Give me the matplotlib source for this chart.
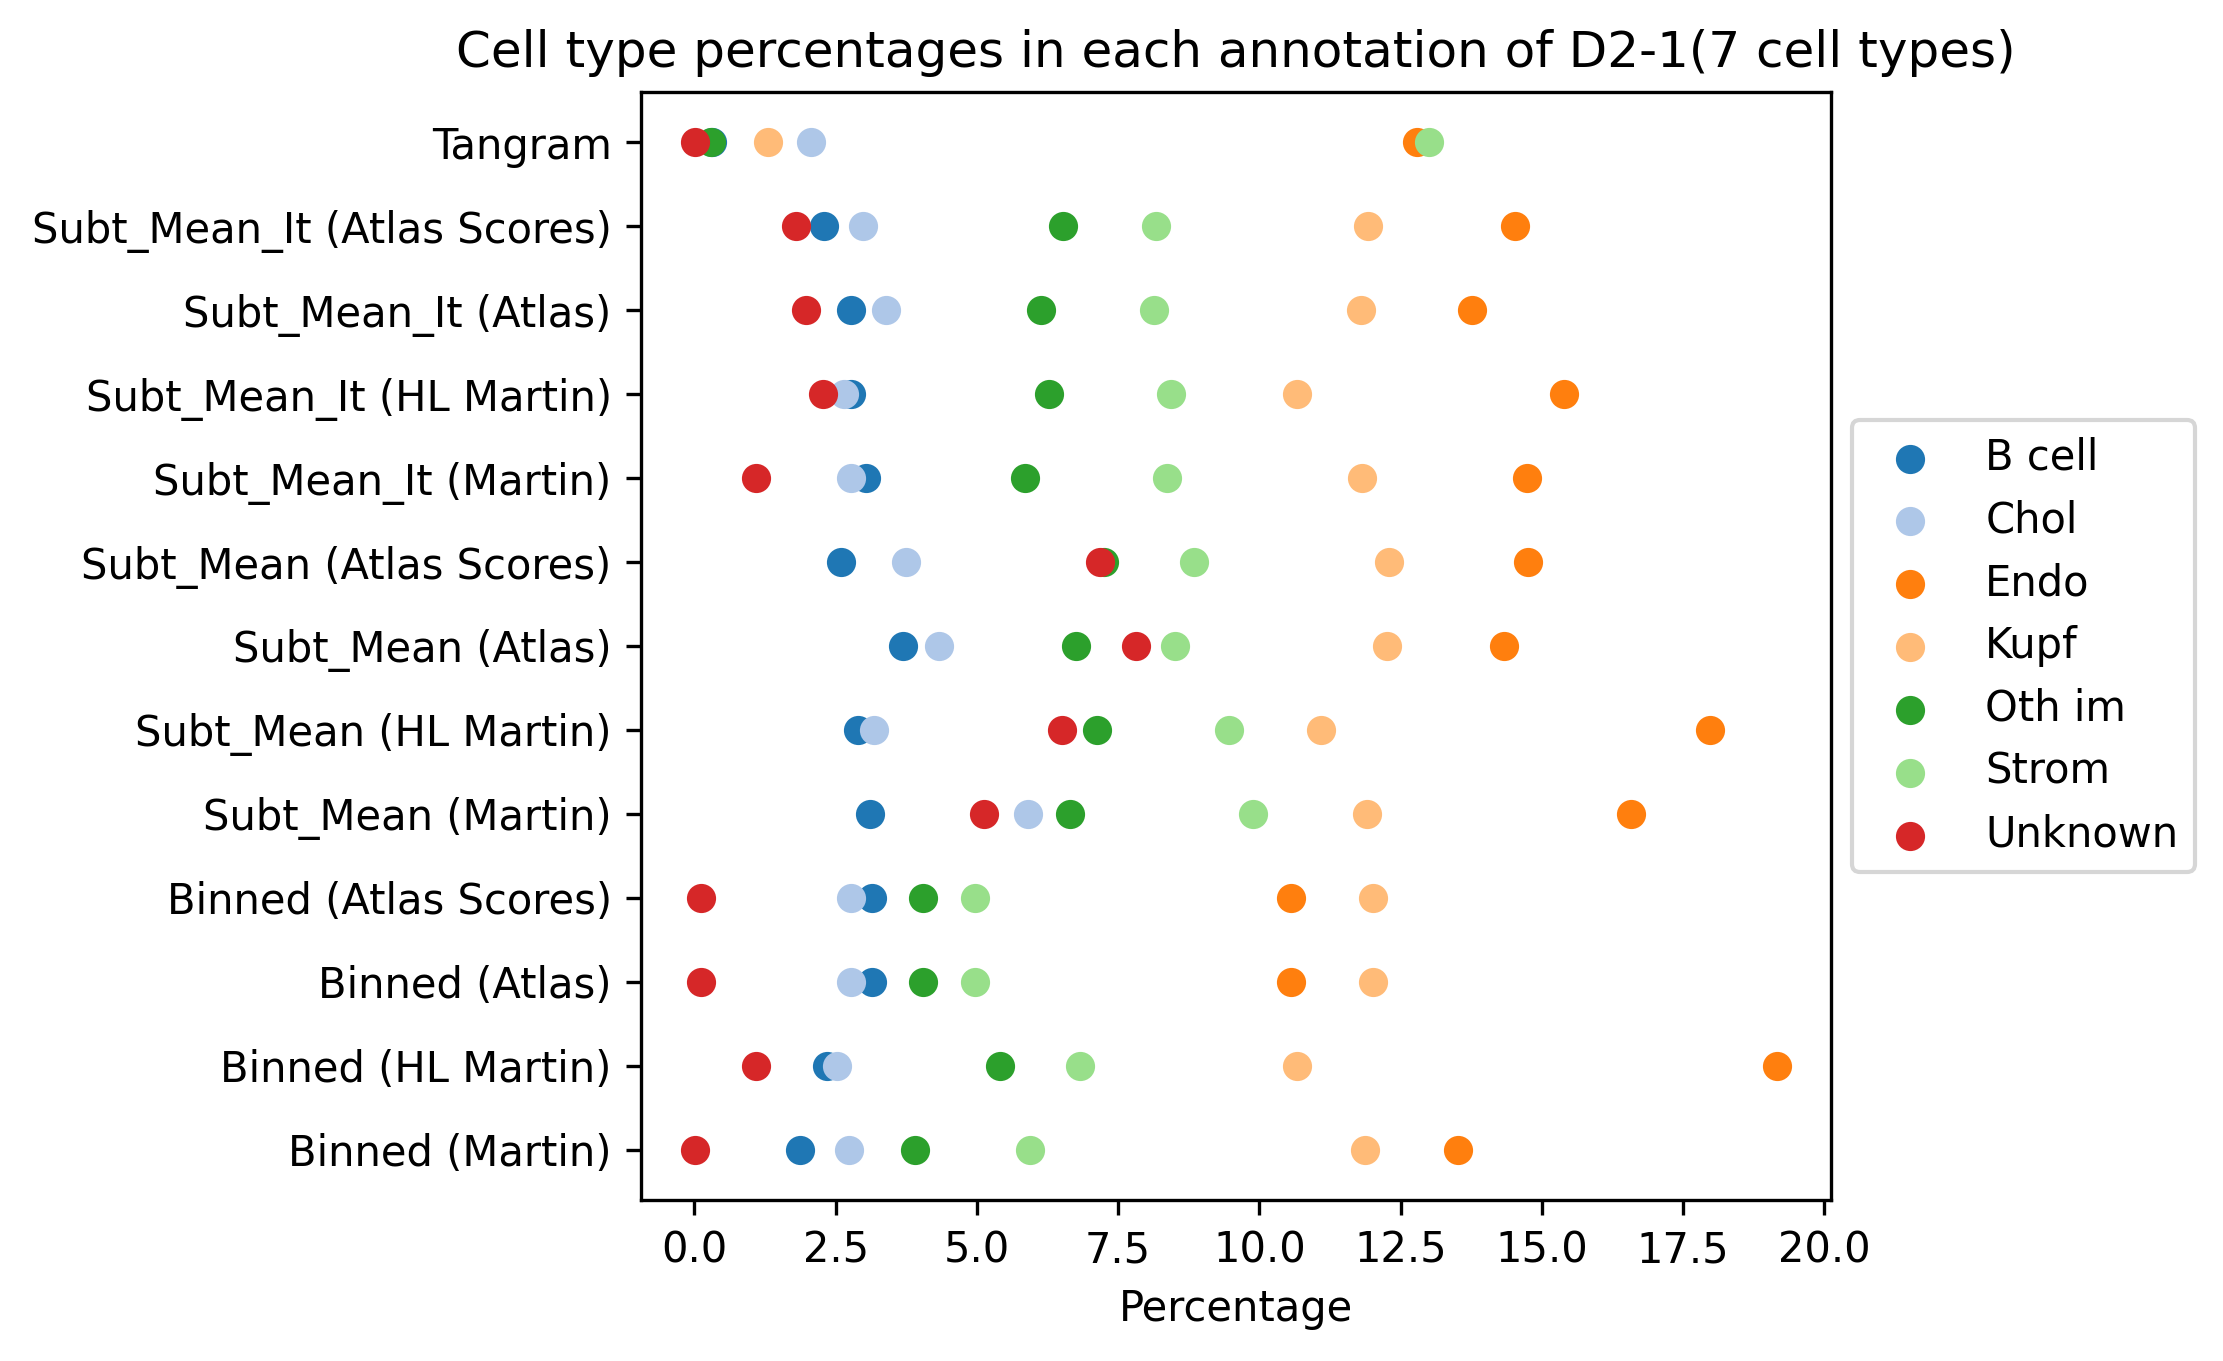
import matplotlib
matplotlib.use("Agg")
import matplotlib.pyplot as plt
import numpy as np

# annotations, bottom to top
annotations = ['Binned (Martin)', 'Binned (HL Martin)', 'Binned (Atlas)', 'Binned (Atlas Scores)',
               'Subt_Mean (Martin)', 'Subt_Mean (HL Martin)', 'Subt_Mean (Atlas)', 'Subt_Mean (Atlas Scores)',
               'Subt_Mean_It (Martin)', 'Subt_Mean_It (HL Martin)', 'Subt_Mean_It (Atlas)',
               'Subt_Mean_It (Atlas Scores)', 'Tangram']

cell_types = ['B cell', 'Chol', 'Endo', 'Kupf', 'Oth im', 'Strom', 'Unknown']

# percentages per cell type, same order as annotations
b_cell  = [1.86, 2.35, 3.14, 3.14, 3.11, 2.89, 3.69, 2.59, 3.03, 2.77, 2.78, 2.29, 0.31]
chol    = [2.74, 2.53, 2.78, 2.78, 5.90, 3.17, 4.33, 3.75, 2.77, 2.64, 3.39, 2.98, 2.06]
endo    = [13.51, 19.16, 10.55, 10.55, 16.58, 17.98, 14.33, 14.75, 14.74, 15.39, 13.76, 14.52, 12.79]
kupf    = [11.86, 10.67, 12.01, 12.01, 11.91, 11.09, 12.25, 12.29, 11.82, 10.66, 11.79, 11.93, 1.30]
oth_im  = [3.91, 5.41, 4.05, 4.05, 6.65, 7.13, 6.76, 7.25, 5.85, 6.27, 6.14, 6.52, 0.29]
strom   = [5.94, 6.82, 4.96, 4.96, 9.89, 9.46, 8.50, 8.84, 8.36, 8.44, 8.13, 8.17, 13.00]
unknown = [0.01, 1.09, 0.12, 0.12, 5.12, 6.50, 7.82, 7.18, 1.09, 2.27, 1.98, 1.80, 0.01]

series = [b_cell, chol, endo, kupf, oth_im, strom, unknown]
colors = plt.get_cmap('tab20').colors[:7]

fig = plt.figure(figsize=(2223 / 300, 1361 / 300), dpi=300)
ax = fig.add_axes([0.2883, 0.1183, 0.8237 - 0.2883, 0.9324 - 0.1183])

for name, vals, col in zip(cell_types, series, colors):
    ax.scatter(vals, annotations, color=col, label=name)

ax.set_title('Cell type percentages in each annotation of D2-1(7 cell types)')
ax.set_xlabel('Percentage')
ax.set_xticks(np.arange(0, 20.1, 2.5))
ax.legend(loc='center left', bbox_to_anchor=(1, 0.5))

fig.savefig('out.png', dpi=300)
